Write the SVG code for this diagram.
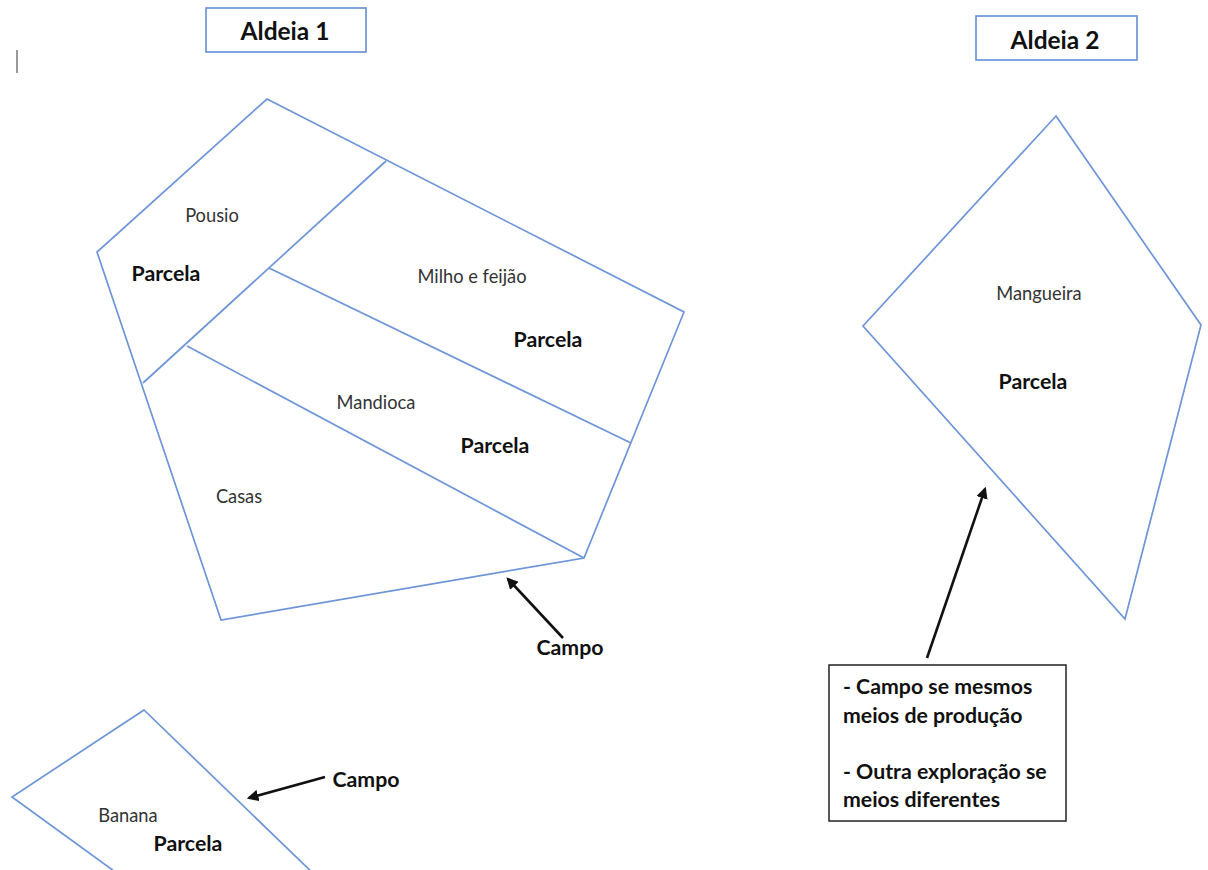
<svg xmlns="http://www.w3.org/2000/svg" width="1208" height="870" viewBox="0 0 1208 870">
<style>
.shape{fill:none;stroke:#6d95d8;stroke-width:1.7;stroke-linejoin:miter}
.lbl{font-family:Lato,"Liberation Sans",sans-serif;font-size:18.3px;fill:#333;text-anchor:middle}
.b{font-family:Lato,"Liberation Sans",sans-serif;font-size:21.3px;font-weight:bold;fill:#111;text-anchor:middle}
.t{font-family:Lato,"Liberation Sans",sans-serif;font-size:21.3px;font-weight:bold;fill:#111}
.arr{stroke:#111;stroke-width:2.6;fill:none;marker-end:url(#ah)}
</style>
<defs>
<marker id="ah" viewBox="0 0 10 10" refX="8" refY="5" markerWidth="4.5" markerHeight="4.5" orient="auto" markerUnits="strokeWidth">
<path d="M0,0 L10,5 L0,10 z" fill="#111"/>
</marker>
</defs>
<rect width="1208" height="870" fill="#fff"/>
<line x1="17" y1="50" x2="17" y2="73" stroke="#777" stroke-width="1.5"/>
<g id="aldeia1-title">
<rect x="206" y="8" width="160" height="44" fill="#fff" stroke="#6d95d8" stroke-width="1.7"/>
<text class="b" x="285" y="40" style="font-size:24.5px">Aldeia 1</text>
</g>
<g id="aldeia2-title">
<rect x="976" y="16" width="161" height="44" fill="#fff" stroke="#6d95d8" stroke-width="1.7"/>
<text class="b" x="1055" y="49" style="font-size:24.5px">Aldeia 2</text>
</g>
<g id="campo1">
<polygon class="shape" points="267,99 684,312 584,558 221,620 97,252"/>
<line class="shape" x1="386" y1="161" x2="143" y2="383"/>
<line class="shape" x1="269" y1="268" x2="631" y2="443"/>
<line class="shape" x1="187" y1="346" x2="584" y2="558"/>
</g>
<g id="pousio">
<text class="lbl" x="212" y="222">Pousio</text>
<text class="b" x="166" y="281">Parcela</text>
</g>
<g id="milho">
<text class="lbl" x="472" y="283">Milho e feijão</text>
<text class="b" x="548" y="347">Parcela</text>
</g>
<g id="mandioca">
<text class="lbl" x="376" y="409">Mandioca</text>
<text class="b" x="495" y="453">Parcela</text>
</g>
<g id="casas">
<text class="lbl" x="239" y="503">Casas</text>
</g>
<g id="banana">
<polygon class="shape" points="144,710 12,797 125,879 319,879"/>
<text class="lbl" x="128" y="822">Banana</text>
<text class="b" x="188" y="851">Parcela</text>
</g>
<g id="mangueira">
<polygon class="shape" points="1056,116 1201,325 1125,619 863,326"/>
<text class="lbl" x="1039" y="300">Mangueira</text>
<text class="b" x="1033" y="389">Parcela</text>
</g>
<g id="campo-label1">
<text class="b" x="570" y="655">Campo</text>
</g>
<g id="campo-label2">
<text class="b" x="366" y="787">Campo</text>
</g>
<g id="nota">
<rect x="829" y="665" width="237" height="156" fill="#fff" stroke="#222" stroke-width="1.5"/>
<text class="t" x="843" y="694">- Campo se mesmos</text>
<text class="t" x="843" y="723">meios de produção</text>
<text class="t" x="843" y="779">- Outra exploração se</text>
<text class="t" x="843" y="807">meios diferentes</text>
</g>
<g id="connectors">
<line class="arr" x1="563" y1="638" x2="508" y2="579"/>
<line class="arr" x1="325" y1="777" x2="249" y2="798"/>
<line class="arr" x1="927" y1="658" x2="985" y2="489"/>
</g>
</svg>
